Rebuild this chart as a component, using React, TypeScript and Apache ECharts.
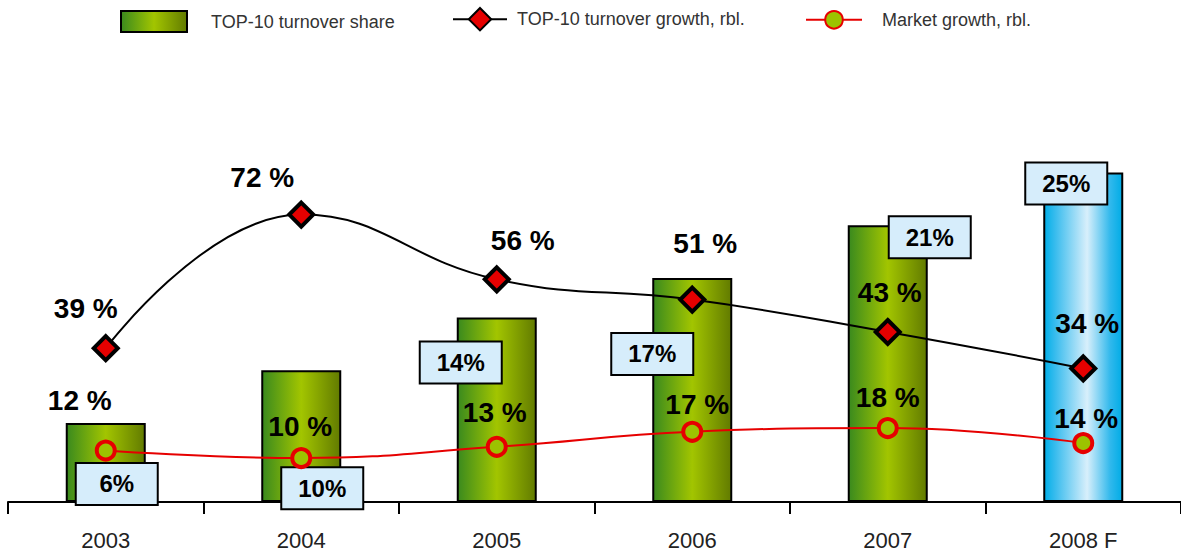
import React, { useEffect, useRef } from "react";
import * as echarts from "echarts";

const years = ["2003", "2004", "2005", "2006", "2007", "2008 F"];
const top10Share = [6, 10, 14, 17, 21, 25];
const top10Growth = [39, 72, 56, 51, 43, 34];
const marketGrowth = [12, 10, 13, 17, 18, 14];

// label placement (styling only)
const shareLabelPos = [[51, 61], [61, 118], [4, 45], [0, 76], [82, 12], [23, 11]];
const growthLabelOff = [[-20, -40], [-39, -37], [26, -39], [13, -56], [2, -39], [4, -45]];
const marketLabelOff = [[-26, -50], [-1, -32], [-2, -34], [5, -27], [0, -31], [3, -25]];

const FONT = "'Liberation Sans', Arial, Helvetica, sans-serif";

const greenGrad = () =>
  new echarts.graphic.LinearGradient(0, 0, 1, 0, [
    { offset: 0, color: "#3a8a1e" },
    { offset: 0.5, color: "#a2c500" },
    { offset: 1, color: "#627b00" },
  ]);
const blueGrad = () =>
  new echarts.graphic.LinearGradient(0, 0, 1, 0, [
    { offset: 0, color: "#00aee8" },
    { offset: 0.15, color: "#3cbdee" },
    { offset: 0.55, color: "#d8effb" },
    { offset: 0.85, color: "#2fb8ec" },
    { offset: 1, color: "#00ace6" },
  ]);

export default function App() {
  const ref = useRef<HTMLDivElement>(null);
  useEffect(() => {
    if (!ref.current) return;
    const chart = echarts.init(ref.current, null, { renderer: "svg" });
    const bigLabel = { fontFamily: FONT, fontSize: 28, fontWeight: "bold", color: "#000" };
    const legendText = { fontFamily: FONT, fontSize: 18, color: "#333" };
    chart.setOption({
      animation: false,
      backgroundColor: "#fff",
      legend: [
        {
          left: 120, top: 10, itemWidth: 66, itemHeight: 21, padding: 0,
          icon: "rect",
          data: ["TOP-10 turnover share"],
          textStyle: { ...legendText, padding: [0, 0, 0, 19] },
        },
        {
          left: 452, top: 7, itemWidth: 54, itemHeight: 28, padding: 0,
          data: ["TOP-10 turnover growth, rbl."],
          textStyle: { ...legendText, padding: [0, 0, 0, 5] },
        },
        {
          left: 805, top: 10, itemWidth: 56, itemHeight: 22, padding: 0,
          data: ["Market growth, rbl."],
          textStyle: { ...legendText, padding: [0, 0, 0, 15] },
        },
      ],
      grid: { left: 8, right: 0, top: 100, bottom: 52, containLabel: false },
      xAxis: {
        type: "category",
        data: years,
        boundaryGap: true,
        axisLine: { lineStyle: { color: "#000", width: 2 } },
        axisTick: { show: true, length: 12, lineStyle: { color: "#000", width: 2 } },
        axisLabel: { fontFamily: FONT, fontSize: 22, color: "#222", margin: 27, interval: 0 },
      },
      yAxis: [
        { type: "value", min: 0, max: 30.5, show: false },
        { type: "value", min: 1, max: 100.3, show: false },
        { type: "value", min: -1.73, max: 105.47, show: false },
      ],
      series: [
        {
          name: "TOP-10 turnover share",
          type: "bar",
          yAxisIndex: 0,
          barWidth: 80,
          itemStyle: { color: greenGrad(), borderColor: "#000", borderWidth: 2 },
          data: top10Share.map((v, i) => ({
            value: v,
            itemStyle: i === top10Share.length - 1 ? { color: blueGrad() } : undefined,
            label: {
              show: true,
              position: shareLabelPos[i],
              align: "center",
              verticalAlign: "middle",
              formatter: "{c}%",
              fontFamily: FONT,
              fontSize: 24,
              fontWeight: "bold",
              color: "#000",
              backgroundColor: "#d6edfb",
              borderColor: "#000",
              borderWidth: 2,
              width: 80,
              height: 40,
              lineHeight: 40,
              padding: 0,
            },
          })),
          z: 1,
        },
        {
          name: "TOP-10 turnover growth, rbl.",
          type: "line",
          yAxisIndex: 1,
          smooth: 0.45,
          symbol: "diamond",
          symbolSize: 24,
          lineStyle: { color: "#000", width: 2 },
          itemStyle: { color: "#e60000", borderColor: "#000", borderWidth: 4 },
          data: top10Growth.map((v, i) => ({
            value: v,
            label: {
              show: true,
              position: "inside",
              offset: growthLabelOff[i],
              formatter: "{c} %",
              ...bigLabel,
            },
          })),
          z: 3,
        },
        {
          name: "Market growth, rbl.",
          type: "line",
          yAxisIndex: 2,
          smooth: 0.45,
          symbol: "circle",
          symbolSize: 18,
          lineStyle: { color: "#e60000", width: 2 },
          itemStyle: { color: "#9cc300", borderColor: "#e60000", borderWidth: 4 },
          data: marketGrowth.map((v, i) => ({
            value: v,
            label: {
              show: true,
              position: "inside",
              offset: marketLabelOff[i],
              formatter: "{c} %",
              ...bigLabel,
            },
          })),
          z: 2,
        },
      ],
    });
    return () => chart.dispose();
  }, []);
  return (
    <div
      ref={ref}
      style={{ position: "absolute", left: 0, top: 0, width: 1181, height: 554 }}
    />
  );
}
